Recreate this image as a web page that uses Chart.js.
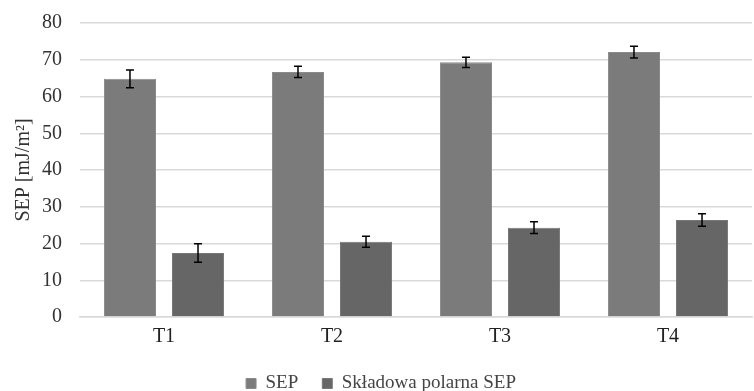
<!DOCTYPE html>
<html>
<head>
<meta charset="utf-8">
<script src="https://cdn.jsdelivr.net/npm/chart.js@4/dist/chart.umd.min.js"></script>
<style>
  html, body { margin: 0; padding: 0; background: #fff; }
  #wrap { width: 754px; height: 391px; }
</style>
</head>
<body>
<div id="wrap"><canvas id="barChart" width="754" height="391"></canvas></div>
<script>
var categories = ["T1", "T2", "T3", "T4"];
var sepValues = [64.8, 66.7, 69.3, 72.1];
var sepErrors = [2.4, 1.5, 1.4, 1.6];
var polarValues = [17.4, 20.5, 24.3, 26.4];
var polarErrors = [2.5, 1.5, 1.6, 1.7];
var yTicks = [0, 10, 20, 30, 40, 50, 60, 70, 80];

var FONT = "'Liberation Serif', 'Times New Roman', serif";

// draws error bars on top of each bar, using the chart's own scales
var errorBars = {
    id: "errorBars",
    afterDatasetsDraw: function (chart) {
        var ctx = chart.ctx;
        var y = chart.scales.y;
        ctx.save();
        ctx.strokeStyle = "#000";
        ctx.lineWidth = 1.5;
        chart.data.datasets.forEach(function (ds, i) {
            var meta = chart.getDatasetMeta(i);
            meta.data.forEach(function (bar, j) {
                var v = ds.data[j], e = ds.errors[j];
                var top = y.getPixelForValue(v + e);
                var bot = y.getPixelForValue(v - e);
                var x = bar.x;
                ctx.beginPath();
                ctx.moveTo(x, top); ctx.lineTo(x, bot);
                ctx.moveTo(x - 4, top); ctx.lineTo(x + 4, top);
                ctx.moveTo(x - 4, bot); ctx.lineTo(x + 4, bot);
                ctx.stroke();
            });
        });
        ctx.restore();
    }
};

// legend: keep the wide horizontal spacing but drop some padding under the row
var legendTrim = {
    id: "legendTrim",
    beforeLayout: function (chart) {
        var lg = chart.legend;
        if (lg && !lg._trimmed) {
            var fit = lg.fit;
            lg.fit = function () {
                fit.call(this);
                this.height -= 12;
            };
            lg._trimmed = true;
        }
    }
};

var ctx = document.getElementById("barChart").getContext("2d");
var barChart = new Chart(ctx, {
    type: "bar",
    data: {
        labels: categories,
        datasets: [
            {
                label: "SEP",
                data: sepValues,
                errors: sepErrors,
                backgroundColor: "#7b7b7b",
                borderColor: "#8a8a8a",
                borderWidth: 1,
                categoryPercentage: 0.81,
                barPercentage: 0.765
            },
            {
                label: "Składowa polarna SEP",
                data: polarValues,
                errors: polarErrors,
                backgroundColor: "#666666",
                borderColor: "#777777",
                borderWidth: 1,
                categoryPercentage: 0.81,
                barPercentage: 0.765
            }
        ]
    },
    options: {
        responsive: false,
        animation: false,
        layout: { padding: { left: 10, right: 2, top: 23, bottom: 0 } },
        plugins: {
            legend: {
                position: "bottom",
                labels: {
                    font: { family: FONT, size: 19 },
                    color: "#444",
                    boxWidth: 10,
                    boxHeight: 10,
                    padding: 24
                }
            },
            tooltip: { enabled: false }
        },
        scales: {
            x: {
                grid: { display: false },
                border: { color: "#d9d9d9", width: 1.5 },
                ticks: { font: { family: FONT, size: 20 }, color: "#222", padding: 0 },
                afterFit: function (scale) { scale.height = 33; }
            },
            y: {
                min: 0,
                max: 80,
                afterBuildTicks: function (axis) {
                    axis.ticks = yTicks.map(function (v) { return { value: v }; });
                },
                grid: { color: "#d9d9d9", lineWidth: 1.5, drawTicks: true, tickLength: 14, tickColor: "#fff" },
                border: { display: false },
                ticks: { font: { family: FONT, size: 20 }, color: "#333", padding: 4 },
                title: {
                    display: true,
                    text: "SEP [mJ/m²]",
                    font: { family: FONT, size: 20 },
                    color: "#333",
                    padding: 2
                }
            }
        }
    },
    plugins: [errorBars, legendTrim]
});
</script>
</body>
</html>
